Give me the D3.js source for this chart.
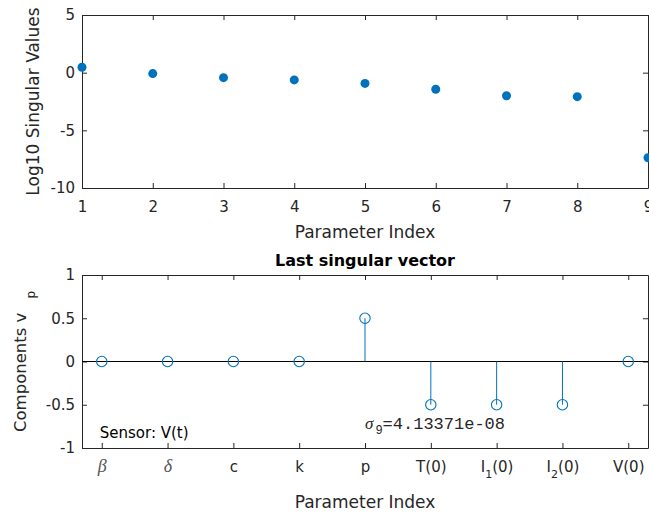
<!DOCTYPE html>
<html>
<head>
<meta charset="utf-8">
<script src="https://cdn.jsdelivr.net/npm/d3@7"></script>
<style>
body { margin: 0; background: #fff; }
svg { display: block; }
</style>
</head>
<body>
<div id="chart"></div>
<script>
var paramIndex = [1, 2, 3, 4, 5, 6, 7, 8, 9];
var logSingular = [0.47, -0.08, -0.43, -0.63, -0.93, -1.44, -2.0, -2.08, -7.38];
var paramNames = ["β", "δ", "c", "k", "p", "T(0)", "I_1(0)", "I_2(0)", "V(0)"];
var lastVector = [0, 0, 0, 0, 0.5, -0.5, -0.5, -0.5, 0];
var topYTicks = [-10, -5, 0, 5];
var botYTicks = [-1, -0.5, 0, 0.5, 1];
var sigmaValue = "4.13371e-08";
var sensorName = "Sensor: V(t)";

var width = 649, height = 513;
var axisColor = "#262626";
var blue = "#0072BD";
var sans = "'DejaVu Sans', sans-serif";
var mono = "'Liberation Mono', monospace";
var serif = "'Liberation Serif', serif";

var svg = d3.select("#chart").append("svg")
  .attr("width", width)
  .attr("height", height);

// top panel: log10 singular values
var xTop = d3.scaleLinear().domain([1, 9]).range([82, 648]);
var yTop = d3.scaleLinear().domain([-10, 5]).range([188, 15]);

// bottom panel: last singular vector
var xBot = d3.scaleLinear().domain([0.7, 9.3]).range([82, 648]);
var yBot = d3.scaleLinear().domain([-1, 1]).range([448, 275]);

function num(d) {
  return String(d);
}

function drawBox(x, y, yTicks, xFormat) {
  var g = svg.append("g");
  var y0 = y.range()[0], y1 = y.range()[1];
  var x0 = x.range()[0], x1 = x.range()[1];

  var bottom = g.append("g")
    .attr("transform", "translate(0," + y0 + ")")
    .call(d3.axisBottom(x).tickValues(paramIndex).tickSizeInner(-5).tickSizeOuter(0)
      .tickPadding(13.5).tickFormat(xFormat));

  g.append("g")
    .attr("transform", "translate(0," + y1 + ")")
    .call(d3.axisTop(x).tickValues(paramIndex).tickSizeInner(-5).tickSizeOuter(0).tickFormat(""));

  g.append("g")
    .attr("transform", "translate(" + x0 + ",0)")
    .call(d3.axisLeft(y).tickValues(yTicks).tickSizeInner(-5).tickSizeOuter(0)
      .tickPadding(7).tickFormat(num));

  g.append("g")
    .attr("transform", "translate(" + x1 + ",0)")
    .call(d3.axisRight(y).tickValues(yTicks).tickSizeInner(-5).tickSizeOuter(0).tickFormat(""));

  g.selectAll("g")
    .attr("color", axisColor)
    .attr("font-family", sans)
    .attr("font-size", 15);

  return bottom;
}

function xLabel(x, yPos, txt) {
  svg.append("text")
    .attr("x", (x.range()[0] + x.range()[1]) / 2)
    .attr("y", yPos)
    .attr("text-anchor", "middle")
    .attr("font-family", sans)
    .attr("font-size", 17)
    .attr("fill", axisColor)
    .text(txt);
}

// ---- top ----
drawBox(xTop, yTop, topYTicks, num);

svg.append("g")
  .selectAll("circle")
  .data(logSingular)
  .enter()
  .append("circle")
  .attr("cx", function(d, i) { return xTop(paramIndex[i]); })
  .attr("cy", function(d) { return yTop(d); })
  .attr("r", 4.5)
  .attr("fill", blue);

xLabel(xTop, yTop.range()[0] + 50, "Parameter Index");

svg.append("text")
  .attr("transform", "translate(39," + (yTop.range()[0] + yTop.range()[1]) / 2 + ") rotate(-90)")
  .attr("text-anchor", "middle")
  .attr("font-family", sans)
  .attr("font-size", 17)
  .attr("fill", axisColor)
  .text("Log10 Singular Values");

// ---- bottom ----
var botAxis = drawBox(xBot, yBot, botYTicks, function() { return ""; });

botAxis.selectAll(".tick")
  .each(function(d) {
    var name = paramNames[d - 1];
    var t = d3.select(this).append("text")
      .attr("y", 23.5)
      .attr("text-anchor", "middle")
      .attr("fill", axisColor)
      .attr("font-family", sans)
      .attr("font-size", 15);
    var m = name.match(/^(.*)_(\d)(.*)$/);
    if (name == "β" || name == "δ") {
      t.attr("font-family", serif)
        .attr("font-style", "italic")
        .attr("font-size", 18)
        .attr("fill", "#555")
        .text(name);
    } else if (m) {
      t.append("tspan").text(m[1]);
      t.append("tspan").attr("dy", 6).attr("font-size", 11).text(m[2]);
      t.append("tspan").attr("dy", -6).text(m[3]);
    } else {
      t.text(name);
    }
  });

// baseline of the stems
svg.append("line")
  .attr("x1", xBot.range()[0])
  .attr("x2", xBot.range()[1])
  .attr("y1", yBot(0))
  .attr("y2", yBot(0))
  .attr("stroke", "#000")
  .attr("stroke-width", 1);

var stems = svg.append("g")
  .selectAll("g")
  .data(lastVector)
  .enter()
  .append("g");

stems.append("line")
  .attr("x1", function(d, i) { return xBot(paramIndex[i]); })
  .attr("x2", function(d, i) { return xBot(paramIndex[i]); })
  .attr("y1", yBot(0))
  .attr("y2", function(d) { return yBot(d); })
  .attr("stroke", blue)
  .attr("stroke-width", 1);

stems.append("circle")
  .attr("cx", function(d, i) { return xBot(paramIndex[i]); })
  .attr("cy", function(d) { return yBot(d); })
  .attr("r", 5.2)
  .attr("fill", "none")
  .attr("stroke", blue)
  .attr("stroke-width", 1.1);

svg.append("text")
  .attr("x", (xBot.range()[0] + xBot.range()[1]) / 2)
  .attr("y", yBot.range()[1] - 9)
  .attr("text-anchor", "middle")
  .attr("font-family", sans)
  .attr("font-size", 16)
  .attr("font-weight", "bold")
  .attr("fill", "#000")
  .text("Last singular vector");

xLabel(xBot, yBot.range()[0] + 60, "Parameter Index");

var yl = svg.append("text")
  .attr("transform", "translate(26," + (yBot.range()[0] + yBot.range()[1]) / 2 + ") rotate(-90)")
  .attr("text-anchor", "middle")
  .attr("font-family", sans)
  .attr("font-size", 16.5)
  .attr("fill", axisColor);
yl.append("tspan").text("Components v");
yl.append("tspan").attr("dx", 14).attr("dy", 9).attr("font-size", 12).text("p");

// annotations
var sig = svg.append("text")
  .attr("x", xBot(5))
  .attr("y", yBot(-0.78))
  .attr("fill", axisColor)
  .attr("font-family", mono)
  .attr("font-size", 17);
sig.append("tspan").attr("font-family", serif).attr("font-style", "italic").text("σ");
sig.append("tspan").attr("dx", 2).attr("dy", 5).attr("font-size", 12).text("9");
sig.append("tspan").attr("dy", -5).text("=" + sigmaValue);

svg.append("text")
  .attr("x", xBot(0.97))
  .attr("y", yBot(-0.885))
  .attr("font-family", sans)
  .attr("font-size", 15)
  .attr("fill", "#000")
  .text(sensorName);
</script>
</body>
</html>
